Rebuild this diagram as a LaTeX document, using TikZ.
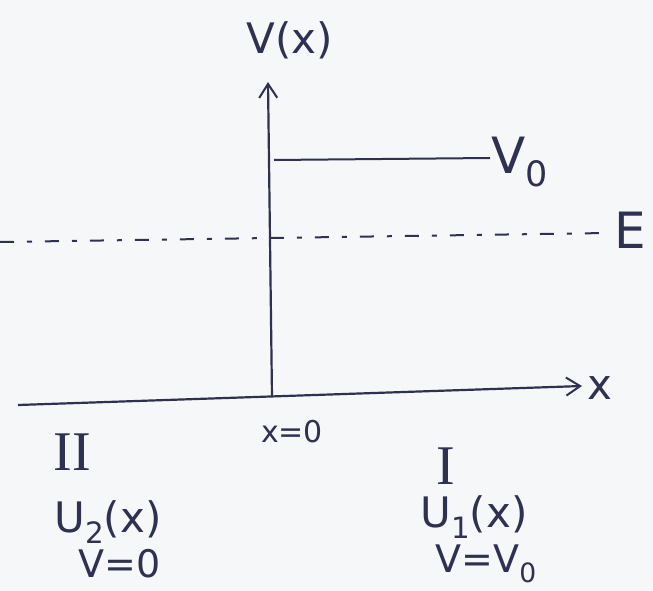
\documentclass[tikz,border=0pt]{standalone}
\usepackage{fontspec}
\setmainfont{DejaVu Sans}
\newfontfamily\romfont{Liberation Serif}
\usetikzlibrary{arrows.meta}
\definecolor{ink}{HTML}{2E3150}
\definecolor{paper}{HTML}{F6F7F9}
\newcommand{\mysub}[1]{\raisebox{-0.25em}{\scalebox{0.7}{#1}}}
\tikzset{
  axis/.style={draw=ink, line width=2.2pt},
  lbl/.style={text=ink, inner sep=0pt, font=\fontsize{42}{46}\selectfont},
  lblb/.style={text=ink, inner sep=0pt, font=\fontsize{38}{42}\selectfont},
  big/.style={text=ink, inner sep=0pt, font=\fontsize{50}{54}\selectfont},
  small/.style={text=ink, inner sep=0pt, font=\fontsize{30}{34}\selectfont},
  rom/.style={text=ink, inner sep=0pt, font=\fontsize{56}{60}\romfont},
  tip/.style={-{Straight Barb[length=14pt,width=18pt,line width=2pt]}},
}
\begin{document}
\begin{tikzpicture}[x=1pt,y=-1pt]
\fill[paper] (0,0) rectangle (653,591);
\useasboundingbox (0,0) rectangle (653,591);
% coordinates
\coordinate (o) at (272,397);
\coordinate (ytop) at (268,82);
\coordinate (xl) at (18,405);
\coordinate (xr) at (582,386);
\coordinate (v0a) at (274,160);
\coordinate (v0b) at (490,158);
\coordinate (ea) at (0,242);
\coordinate (eb) at (608,233);
% axes
\draw[axis,tip] (xl) -- (xr);
\draw[axis,tip] (o) -- (ytop);
\draw[axis, line width=2pt] (v0a) -- (v0b);
\draw[ink, line width=2pt, dash pattern=on 14pt off 13pt on 5pt off 13pt] (ea) -- (eb);
% labels
\node[lbl] (vx) at (290,40) {V(x)};
\node[big] (v0) at (520,162) {V\mysub{0}};
\node[big] (e) at (630,230) {E};
\node[lbl] (xlab) at (600,388) {x};
\node[small] (x0) at (292,432) {x=0};
\node[rom] (r2) at (72,452) {II};
\node[rom] (r1) at (446,466) {I};
\node[lbl] (u2) at (108,522) {U\mysub{2}(x)};
\node[lbl] (u1) at (474,517) {U\mysub{1}(x)};
\node[lblb] (vz) at (120,564) {V=0};
\node[lblb] (vv) at (486,564) {V=V\mysub{0}};
\end{tikzpicture}
\end{document}
